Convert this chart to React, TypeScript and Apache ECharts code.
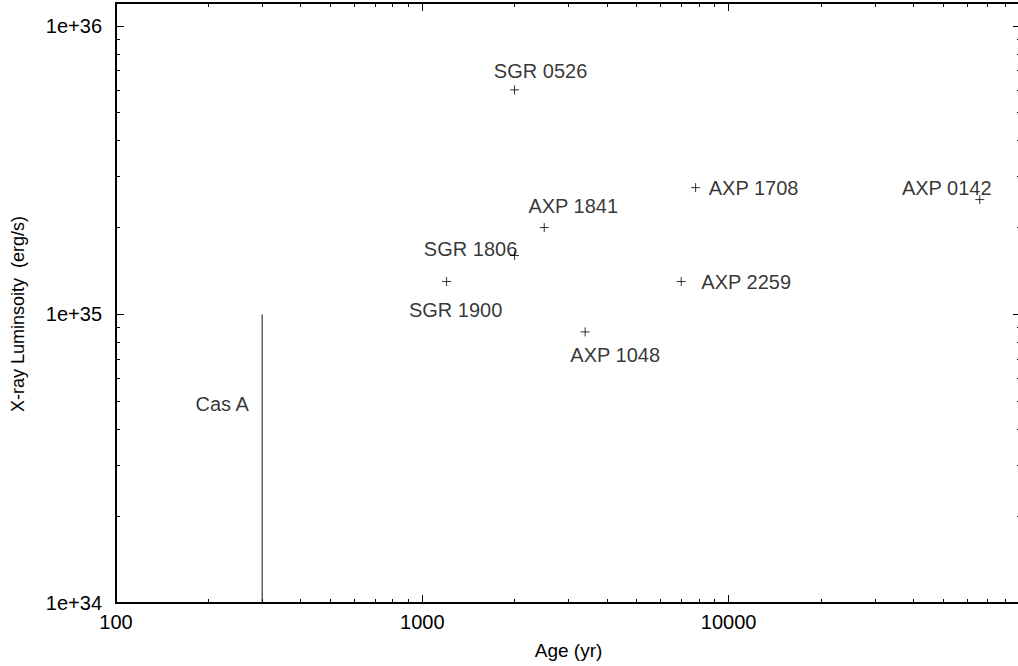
import React, { useEffect, useRef } from 'react';
import * as echarts from 'echarts';

// Magnetar candidates: age (yr) vs. X-ray luminosity (erg/s)
const sourceNames = ['SGR 0526', 'SGR 1900', 'SGR 1806', 'AXP 1841', 'AXP 1048', 'AXP 2259', 'AXP 1708', 'AXP 0142'];
const sourceAges = [2000, 1200, 2000, 2500, 3400, 7000, 7800, 66000];
const sourceLuminosities = [6.0e35, 1.3e35, 1.6e35, 2.0e35, 8.7e34, 1.3e35, 2.75e35, 2.5e35];

// Cas A: upper limit drawn as a vertical bar
const casAAge = 300;
const casALuminosityRange = [1e34, 1e35];
const casALabelLuminosity = 4.9e34;
const casAName = 'Cas A';

// Axis ranges and ticks
const X_MIN = 100;
const X_MAX = 90000;
const Y_MIN = 1e34;
const Y_MAX = 1.2e36;
const xTickValues = [100, 1000, 10000];
const xTickLabels = ['100', '1000', '10000'];
const yTickValues = [1e34, 1e35, 1e36];
const yTickLabels = ['1e+34', '1e+35', '1e+36'];
const xMinorTickValues = [
  200, 300, 400, 500, 600, 700, 800, 900,
  2000, 3000, 4000, 5000, 6000, 7000, 8000, 9000,
  20000, 30000, 40000, 50000, 60000, 70000, 80000,
];
const yMinorTickValues = [
  2e34, 3e34, 4e34, 5e34, 6e34, 7e34, 8e34, 9e34,
  2e35, 3e35, 4e35, 5e35, 6e35, 7e35, 8e35, 9e35,
];

// Label placement (pixel offset of label centre from its marker)
const labelOffsets: [number, number][] = [
  [26, -19], [9, 28], [-44, -7], [29, -22], [30, 23], [65, 0], [58, 0], [-33, -12],
];
const casALabelOffset: [number, number] = [-40, 0];

const FONT = "'Liberation Sans', Arial, Helvetica, sans-serif";
const TEXT_SIZE = 20;

const lookupLabel = (values: number[], labels: string[]) => (v: number) => {
  const i = values.findIndex((t) => Math.abs(t - v) / t < 1e-6);
  return i >= 0 ? labels[i] : '';
};

const tickLine = { color: '#000', width: 1 };
const borderLine = { show: true, lineStyle: { color: '#000', width: 2 } };
const labelText = { color: '#000', fontSize: TEXT_SIZE, fontFamily: FONT };

function buildOption(): echarts.EChartsOption {
  const xLogMin = Math.log10(X_MIN);
  const xLogMax = Math.log10(X_MAX);
  const yLogMin = Math.log10(Y_MIN);
  const yLogMax = Math.log10(Y_MAX);

  const minorX = (position: 'top' | 'bottom') => ({
    type: 'value' as const,
    position,
    min: xLogMin,
    max: xLogMax,
    axisLine: { show: false },
    axisLabel: { show: false },
    splitLine: { show: false },
    axisTick: {
      show: true,
      inside: true,
      length: 4,
      customValues: xMinorTickValues.map((v) => Math.log10(v)),
      lineStyle: tickLine,
    },
  });
  const minorY = (position: 'left' | 'right') => ({
    type: 'value' as const,
    position,
    min: yLogMin,
    max: yLogMax,
    axisLine: { show: false },
    axisLabel: { show: false },
    splitLine: { show: false },
    axisTick: {
      show: true,
      inside: true,
      length: 4,
      customValues: yMinorTickValues.map((v) => Math.log10(v)),
      lineStyle: tickLine,
    },
  });

  return {
    animation: false,
    backgroundColor: '#fff',
    textStyle: { fontFamily: FONT },
    grid: {
      left: 116,
      top: 3,
      width: 905,
      height: 600,
      containLabel: false,
      outerBoundsMode: 'none',
    } as any,
    xAxis: [
      {
        type: 'log',
        logBase: 10,
        position: 'bottom',
        min: X_MIN,
        max: X_MAX,
        interval: 1,
        name: 'Age (yr)',
        nameLocation: 'middle',
        nameGap: 38,
        nameTextStyle: { color: '#000', fontSize: 19, fontFamily: FONT },
        axisLine: borderLine,
        axisTick: { show: true, inside: true, length: 8, lineStyle: tickLine },
        axisLabel: {
          ...labelText,
          margin: 9,
          showMaxLabel: false,
          formatter: lookupLabel(xTickValues, xTickLabels),
        },
        splitLine: { show: false },
      },
      {
        type: 'log',
        logBase: 10,
        position: 'top',
        min: X_MIN,
        max: X_MAX,
        interval: 1,
        axisLine: borderLine,
        axisTick: { show: true, inside: true, length: 8, lineStyle: tickLine },
        axisLabel: { show: false },
        splitLine: { show: false },
      },
      minorX('bottom'),
      minorX('top'),
    ] as any,
    yAxis: [
      {
        type: 'log',
        logBase: 10,
        position: 'left',
        min: Y_MIN,
        max: Y_MAX,
        interval: 1,
        name: 'X-ray Luminsoity\u00a0\u00a0(erg/s)',
        nameLocation: 'middle',
        nameGap: 89,
        nameTextStyle: {
          color: '#000',
          fontSize: 18,
          fontFamily: FONT,
          padding: [0, 22, 0, 0],
        },
        axisLine: borderLine,
        axisTick: { show: true, inside: true, length: 8, lineStyle: tickLine },
        axisLabel: {
          ...labelText,
          margin: 14,
          showMaxLabel: false,
          formatter: lookupLabel(yTickValues, yTickLabels),
        },
        splitLine: { show: false },
      },
      {
        type: 'log',
        logBase: 10,
        position: 'right',
        min: Y_MIN,
        max: Y_MAX,
        interval: 1,
        axisLine: borderLine,
        axisTick: { show: true, inside: true, length: 8, lineStyle: tickLine },
        axisLabel: { show: false },
        splitLine: { show: false },
      },
      minorY('left'),
      minorY('right'),
    ] as any,
    series: [
      {
        type: 'line',
        xAxisIndex: 0,
        yAxisIndex: 0,
        data: casALuminosityRange.map((l) => [casAAge, l]),
        symbol: 'none',
        lineStyle: { color: '#111', width: 1 },
        silent: true,
      },
      {
        type: 'scatter',
        xAxisIndex: 0,
        yAxisIndex: 0,
        symbol: 'circle',
        symbolSize: 1,
        itemStyle: { color: 'rgba(0,0,0,0)' },
        data: [[casAAge, casALabelLuminosity]],
        label: {
          show: true,
          position: 'inside',
          offset: casALabelOffset,
          formatter: casAName,
          ...labelText,
        },
        silent: true,
      },
      {
        type: 'scatter',
        xAxisIndex: 0,
        yAxisIndex: 0,
        symbol: 'path://M0,4.5L9,4.5M4.5,0L4.5,9',
        symbolSize: 9,
        itemStyle: { color: 'none', borderColor: '#000', borderWidth: 1 },
        data: sourceNames.map((name, i) => ({
          name,
          value: [sourceAges[i], sourceLuminosities[i]],
          label: {
            show: true,
            position: 'inside',
            offset: labelOffsets[i],
            formatter: name,
            ...labelText,
          },
        })),
        silent: true,
      },
    ],
  };
}

export default function App() {
  const ref = useRef<HTMLDivElement>(null);

  useEffect(() => {
    if (!ref.current) return;
    const chart = echarts.init(ref.current, undefined, { renderer: 'svg' });
    chart.setOption(buildOption());
    return () => chart.dispose();
  }, []);

  return (
    <div
      style={{
        position: 'absolute',
        left: 0,
        top: 0,
        width: 1018,
        height: 666,
        overflow: 'hidden',
        background: '#fff',
      }}
    >
      <div ref={ref} style={{ width: 1040, height: 666 }} />
    </div>
  );
}
